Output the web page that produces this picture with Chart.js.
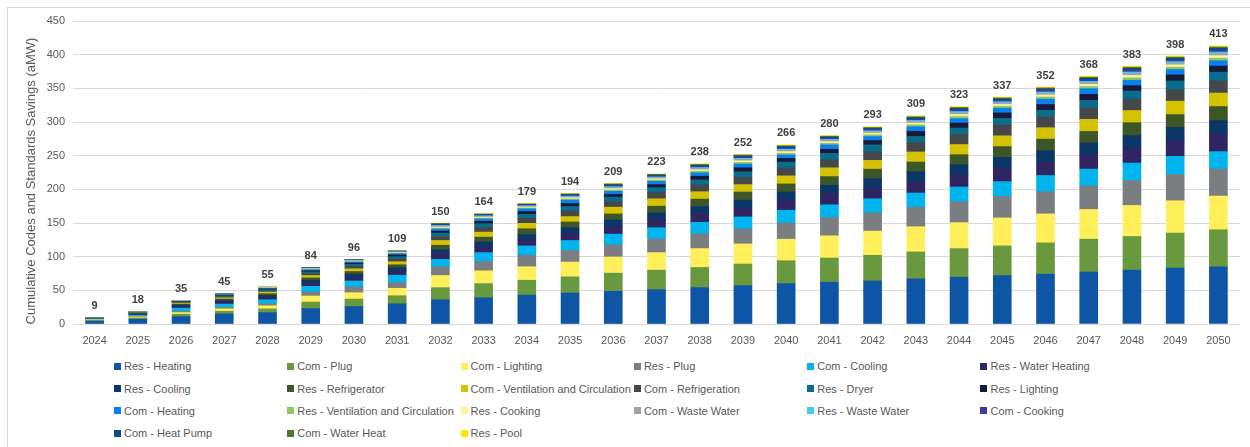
<!DOCTYPE html>
<html>
<head>
<meta charset="utf-8">
<script src="https://cdn.jsdelivr.net/npm/chart.js@4.4.1/dist/chart.umd.min.js"></script>
<style>
  body { margin: 0; background: #fff; font-family: 'Liberation Sans', Arial, sans-serif; }
  #wrap { position: relative; width: 1250px; height: 447px; overflow: hidden; }
  #frame { position: absolute; left: 7px; top: 7px; width: 1260px; height: 460px; border: 1px solid #d9d9d9; }
  #chartBox { position: absolute; left: 0; top: 0; width: 1250px; height: 350px; }
  #legend {
    position: absolute; left: 114px; top: 355px;
    display: grid; grid-template-columns: repeat(6, 173.3px); grid-auto-rows: 22.4px;
    font-size: 11px; color: #595959;
  }
  .item { display: flex; align-items: center; white-space: nowrap; }
  .swatch { width: 7px; height: 7px; margin-right: 3px; flex: none; }
</style>
</head>
<body>
<div id="wrap">
  <div id="frame"></div>
  <div id="chartBox"><canvas id="savingsChart"></canvas></div>
  <div id="legend"></div>
</div>
<script>
// Years on the x axis
const years = ['2024','2025','2026','2027','2028','2029','2030','2031','2032','2033','2034','2035','2036','2037',
  '2038','2039','2040','2041','2042','2043','2044','2045','2046','2047','2048','2049','2050'];

// Cumulative savings by end use (aMW), bottom of the stack first
const resHeating = [3.9, 7, 11, 15, 17, 23, 26, 30, 36, 39, 43, 46, 48.5, 51, 54, 57, 60, 62, 64, 67, 69.5, 72, 74, 77, 80, 83, 85];
const comPlug = [1.9, 2, 3.5, 4, 5.5, 9.5, 11, 12, 18, 21, 22, 24, 27, 29, 30, 32, 34, 36, 38, 40, 42.5, 44, 46.5, 49, 50, 52, 55];
const comLighting = [0.8, 1.5, 2.5, 3.5, 4.5, 9, 9.5, 11, 18, 19, 20, 22, 24, 26, 28, 30, 32, 33, 36, 37.5, 38.5, 41.5, 43, 44, 46, 48, 50];
const resPlug = [0.5, 1, 2, 2.5, 3, 6, 8.5, 8.5, 13, 14, 17, 17, 18, 20, 22, 22, 24, 27, 27, 29, 31, 32, 33, 35, 37, 39, 40];
const comCooling = [0.5, 1.5, 4.5, 4.5, 6, 8.5, 9, 11, 11, 13, 14, 15, 16, 17, 17, 18, 19, 19, 21, 21, 22, 22, 24, 25, 26, 27, 26];
const resWaterHeating = [0.3, 1, 2.5, 3, 3.5, 5, 5.5, 6, 7.5, 8, 9, 10, 11, 12, 13, 13, 15, 17, 16, 17, 18, 20, 20, 22, 22, 23, 26];
const resCooling = [0.2, 1, 2, 2.5, 3, 4, 4.5, 5, 7, 8, 8, 9, 10, 10, 10.5, 12, 12, 12, 14, 15, 15, 16, 17, 17, 19, 20, 20];
const resRefrigerator = [0.2, 0.7, 1.5, 2, 2.5, 3.5, 4, 4.5, 6.5, 7, 8.5, 8.5, 9, 10, 11, 12, 12, 13, 14, 14, 15, 16, 17, 17, 19, 19, 21];
const comVentilation = [0.15, 0.6, 1.5, 2, 2.5, 3.5, 4, 4.5, 7, 7.5, 8, 8, 10, 11, 11, 11, 12, 13, 13, 15, 15, 16, 17, 18, 18, 20, 20];
const comRefrigeration = [0.1, 0.5, 1, 1.5, 2, 3, 3.5, 4, 6, 7, 7.5, 8.5, 8, 9, 10, 11, 12, 12, 13, 14, 15, 16, 16, 17, 17, 17, 18];
const resDryer = [0.1, 0.4, 1, 1.5, 1.5, 2.5, 3, 3.5, 5, 5.5, 6, 6.5, 7, 7.5, 7.5, 8, 8.5, 9.5, 10, 9, 9.5, 10, 10, 11, 12, 13, 13];
const resLighting = [0.1, 0.3, 0.5, 1, 1, 1.5, 2, 2.5, 3, 3.5, 4, 4.5, 4, 4.5, 5.5, 6, 5.5, 6, 6.5, 7.5, 7.5, 8, 8.5, 9, 8, 9, 9];
const comHeating = [0.05, 0.2, 0.5, 0.5, 1, 1.5, 1.5, 2, 3, 3.5, 4, 5, 4.5, 5, 5, 5.5, 5, 6.5, 6, 7, 6.5, 7, 8, 8.5, 8, 8, 8];
const resVentilation = [0.04, 0.06, 0.18, 0.26, 0.35, 0.6, 0.7, 0.78, 1.55, 1.4, 1.35, 1.7, 2.05, 1.9, 2.3, 2.5, 2.55, 2.4, 2.5, 2.75, 3.1, 2.85, 3.1, 3.2, 3.6, 3.45, 3.8];
const resCooking = [0.04, 0.05, 0.17, 0.25, 0.34, 0.6, 0.68, 0.77, 1.5, 1.35, 1.4, 1.7, 2.0, 1.85, 2.3, 2.45, 2.5, 2.35, 2.45, 2.7, 3.05, 2.8, 3.05, 3.15, 3.55, 3.4, 3.75];
const comWasteWater = [0.03, 0.04, 0.13, 0.2, 0.26, 0.45, 0.52, 0.58, 1.2, 1.05, 1.05, 1.3, 1.55, 1.45, 1.75, 1.9, 1.95, 1.8, 1.9, 2.1, 2.35, 2.15, 2.35, 2.4, 2.75, 2.6, 2.9];
const resWasteWater = [0.02, 0.04, 0.11, 0.17, 0.22, 0.4, 0.44, 0.5, 1.0, 0.9, 0.9, 1.1, 1.35, 1.2, 1.5, 1.6, 1.65, 1.55, 1.6, 1.75, 2.0, 1.8, 2.0, 2.05, 2.35, 2.2, 2.45];
const comCooking = [0.02, 0.04, 0.13, 0.19, 0.26, 0.45, 0.52, 0.58, 1.15, 1.0, 1.0, 1.3, 1.55, 1.4, 1.75, 1.9, 1.95, 1.8, 1.9, 2.1, 2.35, 2.15, 2.35, 2.4, 2.75, 2.6, 2.85];
const comHeatPump = [0.02, 0.03, 0.12, 0.19, 0.25, 0.45, 0.5, 0.57, 1.1, 1.0, 1.0, 1.3, 1.5, 1.4, 1.7, 1.85, 1.9, 1.8, 1.85, 2.05, 2.3, 2.1, 2.3, 2.35, 2.7, 2.55, 2.8];
const comWaterHeat = [0.02, 0.02, 0.08, 0.12, 0.16, 0.28, 0.32, 0.36, 0.75, 0.65, 0.65, 0.8, 1.0, 0.9, 1.1, 1.15, 1.25, 1.15, 1.15, 1.3, 1.45, 1.35, 1.45, 1.5, 1.7, 1.6, 1.75];
const resPool = [0.01, 0.02, 0.08, 0.12, 0.16, 0.27, 0.32, 0.36, 0.75, 0.65, 0.65, 0.8, 1.0, 0.9, 1.1, 1.15, 1.25, 1.15, 1.15, 1.25, 1.4, 1.3, 1.4, 1.45, 1.6, 1.6, 1.7];

const seriesNames = ['Res - Heating', 'Com - Plug', 'Com - Lighting', 'Res - Plug', 'Com - Cooling', 'Res - Water Heating',
  'Res - Cooling', 'Res - Refrigerator', 'Com - Ventilation and Circulation', 'Com - Refrigeration', 'Res - Dryer', 'Res - Lighting',
  'Com - Heating', 'Res - Ventilation and Circulation', 'Res - Cooking', 'Com - Waste Water', 'Res - Waste Water', 'Com - Cooking',
  'Com - Heat Pump', 'Com - Water Heat', 'Res - Pool'];
const seriesValues = [resHeating, comPlug, comLighting, resPlug, comCooling, resWaterHeating,
  resCooling, resRefrigerator, comVentilation, comRefrigeration, resDryer, resLighting,
  comHeating, resVentilation, resCooking, comWasteWater, resWasteWater, comCooking,
  comHeatPump, comWaterHeat, resPool];
const seriesColors = ['#0F55A5', '#68993F', '#FFEF5B', '#7B7E81', '#00B4EE', '#2E2562',
  '#0B3667', '#3C5627', '#D5C200', '#45484B', '#0A6C8B', '#191938',
  '#0A80F0', '#8CC860', '#FFF39A', '#A0A2A4', '#45C8F5', '#3B3BA0',
  '#0E4A86', '#4C7B2F', '#FFE600'];

const yTicks = [0, 50, 100, 150, 200, 250, 300, 350, 400, 450];

// Stack totals shown above each bar
const totals = years.map((_, i) => seriesValues.reduce((s, arr) => s + arr[i], 0));

const totalLabels = {
  id: 'totalLabels',
  afterDatasetsDraw(chart) {
    const { ctx } = chart;
    const top = chart.getDatasetMeta(chart.data.datasets.length - 1);
    ctx.save();
    ctx.font = 'bold 11px "Liberation Sans", Arial, sans-serif';
    ctx.fillStyle = '#404040';
    ctx.textAlign = 'center';
    ctx.textBaseline = 'bottom';
    totals.forEach((t, i) => {
      const bar = top.data[i];
      ctx.fillText(Math.round(t), bar.x, bar.y - 6);
    });
    ctx.restore();
  }
};

const yTitle = {
  id: 'yTitle',
  afterDraw(chart) {
    const { ctx } = chart;
    ctx.save();
    ctx.translate(31, 181);
    ctx.rotate(-Math.PI / 2);
    ctx.font = '13px "Liberation Sans", Arial, sans-serif';
    ctx.fillStyle = '#595959';
    ctx.textAlign = 'center';
    ctx.textBaseline = 'middle';
    ctx.fillText('Cumulative Codes and Standards Savings (aMW)', 0, 0);
    ctx.restore();
  }
};

const ctx = document.getElementById('savingsChart').getContext('2d');
const chart = new Chart(ctx, {
  type: 'bar',
  data: {
    labels: years,
    datasets: seriesNames.map((name, k) => ({
      label: name,
      data: seriesValues[k],
      backgroundColor: seriesColors[k],
      borderWidth: 0,
      barThickness: 18
    }))
  },
  options: {
    responsive: true,
    maintainAspectRatio: false,
    animation: false,
    layout: { padding: { left: 8, top: 21, right: 10, bottom: 2 } },
    scales: {
      x: {
        stacked: true,
        grid: { display: false },
        border: { display: false },
        ticks: { color: '#595959', font: { size: 11, family: '"Liberation Sans", Arial, sans-serif' }, padding: 2, maxRotation: 0 },
        afterFit(scale) { scale.height = 24; }
      },
      y: {
        stacked: true,
        min: 0,
        max: 450,
        afterBuildTicks(scale) { scale.ticks = yTicks.map(v => ({ value: v })); },
        grid: { color: '#d9d9d9', drawTicks: false },
        border: { display: false },
        ticks: { color: '#595959', font: { size: 11, family: '"Liberation Sans", Arial, sans-serif' }, padding: 8 },
        afterFit(scale) { scale.width = 65; }
      }
    },
    plugins: {
      legend: { display: false },
      tooltip: { enabled: false }
    }
  },
  plugins: [totalLabels, yTitle]
});

// Legend laid out in a fixed six-column grid
const legendEl = document.getElementById('legend');
seriesNames.forEach((name, k) => {
  const item = document.createElement('div');
  item.className = 'item';
  const sw = document.createElement('span');
  sw.className = 'swatch';
  sw.style.background = seriesColors[k];
  const txt = document.createElement('span');
  txt.textContent = name;
  item.appendChild(sw);
  item.appendChild(txt);
  legendEl.appendChild(item);
});
</script>
</body>
</html>
